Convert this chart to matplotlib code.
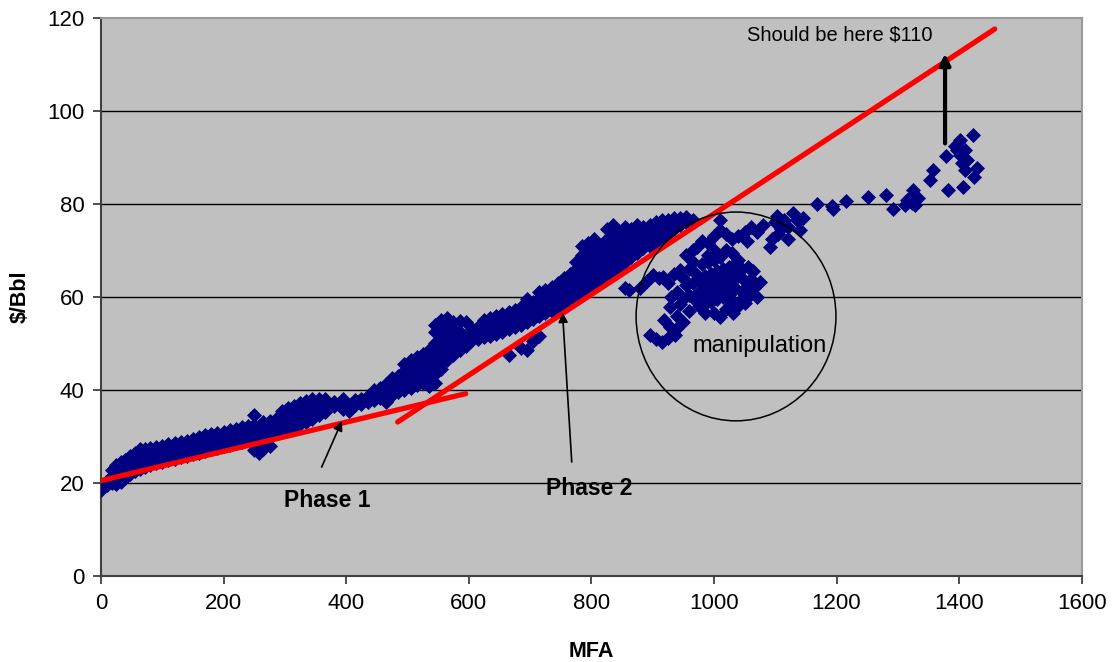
import matplotlib
matplotlib.use('Agg')
import matplotlib.pyplot as plt
from matplotlib.patches import Ellipse

plt.rcParams['font.family'] = ['Liberation Sans', 'DejaVu Sans']

# scatter data: MFA value -> $/Bbl values in that column
phase1_cols = {
    0: [18.5], 10: [19.5, 20.5], 18: [20.0, 21.5, 22.8], 25: [19.8, 21.0, 22.5, 23.8],
    32: [20.3, 21.8, 23.2, 24.5], 40: [21.0, 22.5, 24.0, 25.0], 48: [22.0, 23.4, 24.8, 25.8],
    56: [22.6, 24.0, 25.4, 26.4], 64: [23.0, 24.5, 26.0, 27.2], 72: [23.5, 25.0, 26.3, 27.3],
    80: [23.8, 25.2, 26.5, 27.5], 90: [24.3, 25.6, 26.8, 27.7], 100: [24.6, 25.9, 27.0, 28.0],
    110: [25.0, 26.2, 27.3, 28.3], 120: [25.2, 26.5, 27.6, 28.6], 130: [25.5, 26.8, 27.8, 28.8],
    140: [25.8, 27.0, 28.2, 29.0], 150: [26.2, 27.4, 28.5, 29.4], 160: [26.5, 27.7, 28.8, 29.8],
    170: [26.9, 28.0, 29.1, 30.2], 180: [27.2, 28.3, 29.4, 30.5], 190: [27.5, 28.6, 29.7, 30.7],
    200: [27.9, 29.0, 30.0, 31.0], 210: [28.2, 29.3, 30.3, 31.3], 220: [28.5, 29.6, 30.6, 31.7],
    230: [28.8, 29.9, 31.0, 32.0], 240: [29.2, 30.3, 31.3, 32.3], 250: [27.0, 29.5, 30.6, 31.6, 32.5, 34.5],
    258: [26.5, 27.8], 265: [27.3, 29.9, 31.0, 32.0, 33.0], 275: [28.0, 30.3, 31.4, 32.4, 33.4],
    285: [30.7, 31.8, 32.8, 33.8], 295: [31.1, 32.2, 33.3, 34.5, 35.5], 305: [31.5, 32.7, 33.8, 35.0, 36.2],
    315: [32.0, 33.2, 34.4, 35.6, 36.6], 325: [32.6, 33.8, 35.0, 36.2, 37.2], 335: [33.2, 34.5, 35.7, 36.8, 37.6],
    345: [33.8, 35.1, 36.3, 37.4, 38.0], 355: [34.5, 35.8, 37.0, 38.0], 365: [35.2, 36.5, 37.5, 38.0],
    380: [36.5, 37.5], 395: [36.0, 37.2, 38.0], 405: [35.5, 36.5], 415: [36.8, 37.8], 425: [37.0, 38.0],
    435: [37.5, 38.6], 445: [37.8, 39.0, 40.0], 455: [38.2, 39.4, 40.5], 465: [37.5, 38.7, 39.9, 41.2],
    475: [39.0, 40.3, 41.5, 42.5],
}

jump_cols = {
    485: [39.5, 40.8, 42.0, 43.0], 495: [40.0, 41.3, 42.5, 44.0, 45.5], 505: [40.5, 42.0, 43.5, 45.0, 46.5],
    515: [41.0, 42.5, 44.0, 45.5, 47.0], 525: [41.5, 43.0, 44.5, 46.0, 47.8],
    535: [40.8, 42.5, 44.0, 45.5, 47.0, 48.5], 545: [41.5, 43.5, 45.5, 47.0, 48.5, 50.0, 52.5, 54.0],
    555: [44.5, 46.0, 47.5, 49.0, 50.5, 52.0, 53.5, 55.0], 565: [46.5, 48.0, 49.5, 51.0, 52.5, 54.0, 55.5],
    575: [47.5, 49.5, 51.0, 53.0, 54.5], 585: [48.5, 50.0, 52.5, 54.8], 595: [49.5, 51.0, 54.5],
}

phase2_cols = {
    605: [50.8, 52.0, 53.2], 615: [51.0, 52.2, 53.5], 625: [51.3, 52.6, 53.9, 55.0],
    635: [51.6, 53.0, 54.3, 55.5], 645: [52.0, 53.4, 54.8, 56.0], 655: [52.5, 53.8, 55.2, 56.4],
    665: [47.5, 53.0, 54.3, 55.6, 56.8], 675: [53.5, 54.8, 56.0, 57.2], 685: [49.0, 54.0, 55.3, 56.5, 57.8],
    695: [48.5, 54.5, 55.8, 57.0, 58.3, 59.5], 705: [50.5, 55.2, 56.5, 57.8, 59.0],
    715: [51.5, 55.8, 57.2, 58.5, 59.8, 61.0], 725: [56.5, 58.0, 59.3, 60.5, 61.5],
    735: [57.0, 58.6, 60.0, 61.2, 62.2], 745: [57.8, 59.3, 60.7, 62.0, 63.0],
    755: [58.5, 60.0, 61.5, 62.8, 64.0], 765: [59.3, 60.8, 62.2, 63.5, 65.0],
    775: [60.0, 61.5, 63.0, 64.5, 66.0, 67.5], 785: [60.8, 62.3, 64.0, 65.5, 67.0, 69.0, 71.0],
    795: [61.5, 63.0, 64.8, 66.5, 68.0, 70.0, 71.5], 805: [62.5, 64.0, 65.5, 67.0, 68.5, 70.5, 72.5],
    815: [63.5, 65.0, 66.5, 68.0, 69.5, 71.0], 825: [64.5, 66.0, 67.5, 69.0, 70.5, 72.5, 74.5],
    835: [65.5, 67.0, 68.5, 70.0, 71.5, 73.5, 75.5], 845: [66.5, 68.0, 69.5, 71.0, 72.5, 74.0],
    855: [62.0, 67.5, 69.0, 70.5, 72.0, 73.5, 75.0], 865: [68.5, 70.0, 71.5, 73.0, 74.5],
    875: [69.5, 71.0, 72.5, 74.0, 75.5], 885: [70.5, 72.0, 73.5, 75.0], 895: [71.0, 72.5, 74.0, 75.5],
    905: [71.5, 73.0, 74.5, 76.0], 915: [72.5, 74.0, 75.5, 76.5], 925: [73.5, 75.0, 76.5],
    935: [74.5, 76.0, 77.0], 945: [75.5, 77.0], 955: [76.0, 77.2], 965: [76.5],
}

manip_pts = [
    (895, 51.8), (905, 51.0), (915, 50.3), (925, 51.2), (936, 51.8), (928, 53.5), (918, 55.0),
    (928, 57.8), (940, 56.0), (945, 58.5), (862, 61.5), (880, 62.0), (890, 63.5), (900, 64.7),
    (910, 64.0), (917, 64.3), (925, 63.0), (935, 65.0), (944, 65.8), (950, 64.0), (955, 62.5),
    (940, 61.0), (930, 60.0), (950, 59.5), (960, 60.5), (965, 63.0), (960, 66.0), (970, 65.0),
    (975, 58.0), (985, 58.5), (995, 59.0), (1005, 59.5), (1015, 60.0), (1025, 60.5),
    (975, 61.0), (985, 61.5), (995, 62.0), (1005, 62.5), (1015, 63.0), (1025, 63.5),
    (975, 64.0), (985, 64.5), (995, 65.0), (1005, 65.5), (1015, 66.0),
    (980, 67.0), (990, 67.5), (1000, 68.0),
    (980, 59.8), (990, 60.2), (1000, 61.0), (1010, 61.2), (1020, 62.0), (1030, 59.0),
    (1045, 59.5), (1055, 62.5), (1030, 65.0), (1020, 64.8), (990, 63.2), (1000, 64.0),
    (980, 62.8), (1010, 64.2), (970, 59.2), (965, 67.5), (1045, 66.0), (1055, 66.5),
    (1063, 65.5), (985, 56.5), (960, 57.0), (950, 54.5), (938, 53.0),
    (1000, 56.5), (1010, 55.7), (1020, 57.5), (1031, 56.6), (1040, 58.0), (1050, 58.7),
    (1058, 60.5), (1065, 62.0), (1075, 63.2), (1070, 60.0), (1045, 61.0), (1035, 62.0),
    (1040, 64.5), (1050, 63.5), (1060, 63.8),
    (990, 69.0), (1000, 70.0), (1010, 68.5), (1020, 70.0), (1030, 69.5), (1040, 68.0),
    (1025, 66.5), (1035, 67.0),
    (955, 69.0), (965, 70.0), (972, 70.8), (980, 72.0), (990, 71.5), (1000, 73.0), (1010, 74.4),
    (1020, 73.5), (1030, 72.5), (1040, 73.0), (1050, 74.0), (1054, 72.0), (1060, 75.0),
    (1070, 74.0), (1080, 75.5), (1091, 70.8), (1095, 72.5), (1100, 76.0), (1103, 77.5),
    (1110, 74.5), (1115, 76.5), (1120, 75.0), (1129, 78.0), (1135, 76.5), (1140, 74.4),
    (1145, 77.0), (1120, 72.5), (1105, 73.5), (1010, 76.5),
]

tail_pts = [
    (1168, 80.0), (1192, 79.6), (1194, 78.9), (1215, 80.6), (1251, 81.5), (1280, 81.9),
    (1292, 78.9), (1311, 79.8), (1315, 80.9), (1319, 81.3), (1323, 80.2), (1324, 83.0),
    (1333, 81.3), (1328, 79.8), (1352, 85.2), (1357, 87.3), (1378, 90.3), (1381, 83.0),
    (1396, 91.6), (1401, 90.5), (1404, 88.8), (1412, 89.5), (1409, 87.3), (1429, 87.7),
    (1425, 85.8), (1406, 83.7), (1401, 93.8), (1422, 94.8), (1393, 92.5), (1409, 91.6),
]

# red trend lines (end points)
trend1_x = [0, 595]
trend1_y = [20.5, 39.2]
trend2_x = [484, 1458]
trend2_y = [33.1, 117.6]

xs, ys = [], []
for cols in (phase1_cols, jump_cols, phase2_cols):
    for x, vals in cols.items():
        for v in vals:
            xs.append(x)
            ys.append(v)
for x, v in manip_pts + tail_pts:
    xs.append(x)
    ys.append(v)

fig = plt.figure(figsize=(11.12, 6.62), dpi=100)
ax = fig.add_axes([0.0908, 0.130, 0.882, 0.843])
ax.set_facecolor('#C0C0C0')

for yv in range(20, 120, 20):
    ax.axhline(yv, color='black', lw=1.0, zorder=1)

ax.plot(xs, ys, ls='none', marker='D', ms=7.6, color='#000080', mec='#000080', mew=0.5, zorder=3)

ax.plot(trend1_x, trend1_y, color='#FF0000', lw=3.8, solid_capstyle='round', zorder=4)
ax.plot(trend2_x, trend2_y, color='#FF0000', lw=3.8, solid_capstyle='round', zorder=4)

ax.add_patch(Ellipse((1036, 55.8), 326, 44.9, fill=False, ec='black', lw=1.1, zorder=5))

thin = dict(arrowstyle='-|>', color='black', lw=1.2, mutation_scale=14, shrinkA=0, shrinkB=0)
ax.annotate('', xy=(393, 33.3), xytext=(360, 23.4), arrowprops=thin, zorder=6)
ax.annotate('', xy=(753, 56.6), xytext=(768, 24.5), arrowprops=thin, zorder=6)
thick = dict(arrowstyle='-|>', color='black', lw=3, mutation_scale=16, shrinkA=0, shrinkB=0)
ax.annotate('', xy=(1377, 112.3), xytext=(1377, 93.0), arrowprops=thick, zorder=6)

ax.text(369, 16.3, 'Phase 1', fontsize=16.5, fontweight='bold', ha='center', va='center')
ax.text(797, 18.9, 'Phase 2', fontsize=16.5, fontweight='bold', ha='center', va='center')
ax.text(1205, 116.3, 'Should be here $110', fontsize=14.5, ha='center', va='center')
ax.text(1075, 49.5, 'manipulation', fontsize=17, ha='center', va='center')

ax.set_xlim(0, 1600)
ax.set_ylim(0, 120)
ax.set_xticks(range(0, 1601, 200))
ax.set_yticks(range(0, 121, 20))
ax.tick_params(direction='out', length=6, width=1.3, color='#404040', labelsize=16, pad=6)

for s in ('left', 'bottom'):
    ax.spines[s].set_color('#404040')
    ax.spines[s].set_linewidth(1.5)
for s in ('top', 'right'):
    ax.spines[s].set_color('#999999')
    ax.spines[s].set_linewidth(1.5)

ax.set_xlabel('MFA', fontsize=15.5, fontweight='bold', labelpad=20)
ax.set_ylabel('$/Bbl', fontsize=15.5, fontweight='bold', labelpad=12)

plt.savefig('out.png', dpi=100)
